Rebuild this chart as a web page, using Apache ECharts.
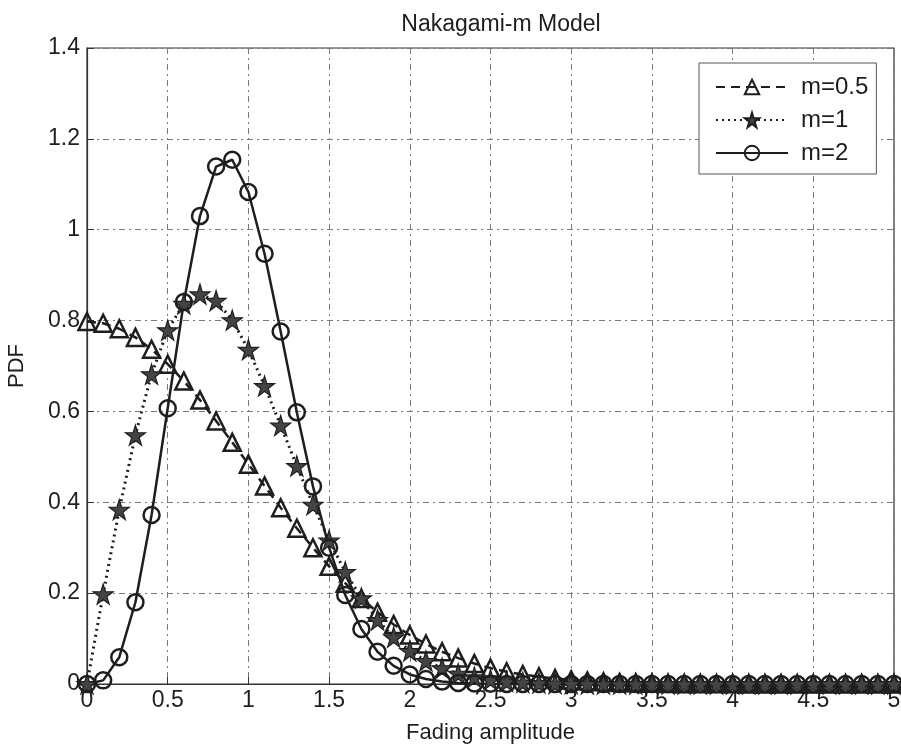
<!DOCTYPE html>
<html>
<head>
<meta charset="utf-8">
<script src="https://cdn.jsdelivr.net/npm/echarts@6/dist/echarts.min.js"></script>
<style>html,body{margin:0;padding:0;background:#fff}#c{width:901px;height:751px}</style>
</head>
<body>
<div id="c"></div>
<script>
const xValues = [0,0.1,0.2,0.3,0.4,0.5,0.6,0.7,0.8,0.9,1.0,1.1,1.2,1.3,1.4,1.5,1.6,1.7,1.8,1.9,2.0,2.1,2.2,2.3,2.4,2.5,2.6,2.7,2.8,2.9,3.0,3.1,3.2,3.3,3.4,3.5,3.6,3.7,3.8,3.9,4.0,4.1,4.2,4.3,4.4,4.5,4.6,4.7,4.8,4.9,5.0];
const m05 = [0.798,0.794,0.782,0.763,0.737,0.704,0.667,0.625,0.579,0.532,0.484,0.436,0.388,0.343,0.300,0.259,0.222,0.188,0.158,0.131,0.108,0.088,0.071,0.057,0.045,0.035,0.027,0.021,0.016,0.012,0.009,0.0065,0.0048,0.0034,0.0025,0.0017,0.0012,0.0008,0.0006,0.0004,0.0003,0.0002,0.0001,0.0001,0.0001,0,0,0,0,0,0];
const m1 = [0,0.198,0.384,0.548,0.682,0.779,0.837,0.858,0.844,0.801,0.736,0.656,0.569,0.480,0.395,0.316,0.247,0.189,0.141,0.103,0.073,0.051,0.035,0.023,0.015,0.0097,0.006,0.0037,0.0022,0.0013,0.0007,0.0004,0.0002,0.0001,0,0,0,0,0,0,0,0,0,0,0,0,0,0,0,0,0];
const m2 = [0,0.008,0.059,0.180,0.372,0.607,0.841,1.030,1.139,1.154,1.083,0.947,0.776,0.598,0.435,0.300,0.196,0.121,0.071,0.040,0.021,0.011,0.0053,0.0024,0.0011,0.0004,0.0002,0.0001,0,0,0,0,0,0,0,0,0,0,0,0,0,0,0,0,0,0,0,0,0,0,0];
const seriesNames = ['m=0.5','m=1','m=2'];
const xTicks = [0,0.5,1,1.5,2,2.5,3,3.5,4,4.5,5];
const yTicks = [0,0.2,0.4,0.6,0.8,1,1.2,1.4];

const pairs = ys => xValues.map((x,i)=>[x, ys[i]]);
const STAR = 'path://M50,0 L61,35 L98,35 L68,57 L79,91 L50,70 L21,91 L32,57 L2,35 L39,35 Z';
const FONT = 'Liberation Sans';
const INK = '#1e1e1e';
const gridLine = {show:true, lineStyle:{color:'#7a7a7a', width:1, type:[6,4,2,4]}};

const chart = echarts.init(document.getElementById('c'), null, {renderer:'canvas'});
chart.setOption({
  backgroundColor:'#fff',
  animation:false,
  title:{text:'Nakagami-m Model', left:496, textAlign:'center', top:8,
    textStyle:{fontFamily:FONT, fontSize:23, fontWeight:'normal', color:INK}},
  grid:{left:87, right:7, top:48, bottom:67, containLabel:false, outerBoundsMode:'none',
    show:true, borderColor:'#333', borderWidth:1.2, backgroundColor:'transparent'},
  legend:{
    orient:'vertical', left:699, top:63,
    padding:[12,8,9,16], itemGap:9, itemWidth:72, itemHeight:18,
    backgroundColor:'#fff', borderColor:'#555', borderWidth:1,
    textStyle:{fontFamily:FONT, fontSize:24, color:INK, padding:[0,0,0,8]},
    data:seriesNames
  },
  xAxis:{type:'value', min:0, max:5, interval:0.5,
    name:'Fading amplitude', nameLocation:'middle', nameGap:38,
    nameTextStyle:{fontFamily:FONT, fontSize:22, color:INK},
    axisLine:{show:true, onZero:false, lineStyle:{color:'#333', width:1.2}},
    axisTick:{show:true, inside:true, length:7, lineStyle:{color:'#333'}},
    axisLabel:{fontFamily:FONT, fontSize:23, color:INK, margin:5,
      formatter:v=>xTicks.includes(v)?String(v):''},
    splitLine:gridLine},
  yAxis:{type:'value', min:0, max:1.4, interval:0.2,
    name:'PDF', nameLocation:'middle', nameGap:59, nameRotate:90,
    nameTextStyle:{fontFamily:FONT, fontSize:22, color:INK},
    axisLine:{show:true, lineStyle:{color:'#333', width:1.2}},
    axisTick:{show:true, inside:true, length:7, lineStyle:{color:'#333'}},
    axisLabel:{fontFamily:FONT, fontSize:23, color:INK, margin:7,
      formatter:v=>{const t=yTicks.find(k=>Math.abs(k-v)<1e-9);return t===undefined?'':String(t);}},
    splitLine:gridLine},
  series:[
    {name:seriesNames[0], type:'line', data:pairs(m05), clip:false,
      symbol:'triangle', symbolSize:17, showAllSymbol:true,
      lineStyle:{color:INK, width:2.5, type:[9,6]},
      itemStyle:{color:'rgba(255,255,255,0)', borderColor:INK, borderWidth:2.5}},
    {name:seriesNames[1], type:'line', data:pairs(m1), clip:false,
      symbol:STAR, symbolSize:20, showAllSymbol:true,
      lineStyle:{color:INK, width:3, type:[2,4]},
      itemStyle:{color:'#444', borderColor:INK, borderWidth:1.2}},
    {name:seriesNames[2], type:'line', data:pairs(m2), clip:false,
      symbol:'circle', symbolSize:16, showAllSymbol:true,
      lineStyle:{color:INK, width:2.5, type:'solid'},
      itemStyle:{color:'rgba(255,255,255,0)', borderColor:INK, borderWidth:2.5}}
  ]
});
</script>
</body>
</html>
